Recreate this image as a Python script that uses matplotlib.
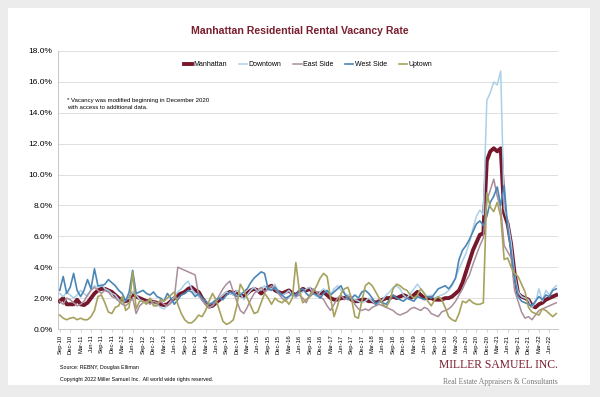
import numpy as np
import pandas as pd
import matplotlib.pyplot as plt
from matplotlib.patches import Rectangle

# monthly vacancy rate (%), Sep-2010 .. Aug-2022
months = pd.date_range("2010-09-01", periods=144, freq="MS")

manhattan = [
    1.8, 2.0, 1.6, 1.6,
    1.6, 1.9, 1.6, 1.55, 1.7, 2.0, 2.3, 2.5, 2.6, 2.6, 2.5, 2.4,
    2.2, 2.0, 1.8, 1.8, 1.9, 2.3, 2.1, 2.0, 1.9, 1.8, 1.8, 1.75,
    1.7, 1.6, 1.55, 1.6, 1.8, 2.0, 2.2, 2.3, 2.4, 2.6, 2.7, 2.5,
    2.4, 2.0, 1.7, 1.45, 1.5, 1.7, 1.9, 2.1, 2.3, 2.4, 2.3, 2.4,
    2.2, 2.1, 2.3, 2.5, 2.6, 2.5, 2.3, 2.5, 2.7, 2.8, 2.5, 2.4,
    2.3, 2.4, 2.5, 2.3, 2.2, 2.4, 2.6, 2.5, 2.6, 2.4, 2.3, 2.3,
    2.4, 2.2, 2.0, 1.9, 1.9, 2.0, 2.0, 2.1, 1.9, 1.8, 1.8, 1.9,
    1.9, 1.8, 1.8, 1.7, 1.8, 1.9, 2.0, 2.0, 2.1, 2.0, 2.1, 2.2,
    2.1, 2.0, 2.2, 2.4, 2.2, 2.0, 2.0, 2.0, 1.9, 1.9, 1.9, 2.0,
    2.0, 2.1, 2.3, 2.5, 3.0, 3.7, 4.4, 5.1, 5.6, 6.1, 6.2, 10.9,
    11.5, 11.7, 11.5, 11.7, 7.5, 6.8, 5.5, 3.6, 2.3, 2.1, 2.0, 1.9,
    1.5, 1.4, 1.6, 1.7, 1.9, 2.0, 2.1, 2.2,
]
downtown = [
    2.3, 2.1, 2.4, 2.2,
    2.0, 2.2, 2.5, 2.3, 2.1, 2.6, 2.8, 2.7, 2.9, 2.6, 2.5, 2.3,
    2.2, 1.9, 1.7, 1.9, 2.0, 2.4, 2.2, 1.9, 1.8, 1.7, 1.9, 1.6,
    1.6, 1.4, 1.3, 1.5, 1.8, 2.1, 2.4, 2.6, 2.9, 3.1, 2.6, 2.3,
    2.1, 1.9, 1.6, 1.4, 1.5, 1.8, 2.0, 2.2, 2.4, 2.3, 2.2, 2.5,
    2.3, 1.9, 2.2, 2.5, 2.7, 2.4, 2.6, 2.8, 2.5, 2.6, 2.9, 2.4,
    2.2, 2.3, 2.5, 2.2, 2.0, 2.3, 2.4, 2.6, 2.7, 2.3, 2.1, 2.4,
    2.6, 2.4, 2.2, 2.6, 2.8, 2.5, 2.3, 2.2, 2.1, 1.9, 1.8, 1.7,
    1.8, 2.0, 1.8, 1.6, 1.7, 1.9, 2.2, 2.4, 2.7, 2.8, 2.6, 2.2,
    2.0, 2.3, 2.6, 2.9, 2.6, 2.3, 2.1, 2.2, 2.0, 2.1, 2.2, 2.3,
    2.5, 2.8, 3.3, 3.9, 4.4, 4.9, 5.6, 6.5, 7.3, 7.7, 7.4, 14.8,
    15.3, 16.0, 15.8, 16.7, 7.8, 7.0, 5.6, 3.5, 2.4, 2.1, 2.0, 1.9,
    1.4, 1.7, 2.6, 1.8, 2.5, 2.2, 2.6, 2.8,
]
east_side = [
    1.8, 1.6, 2.0, 1.9,
    1.7, 1.5, 1.6, 1.8, 2.2, 2.5, 2.7, 2.5, 2.3, 2.5, 2.4, 2.1,
    2.0, 1.8, 1.6, 1.5, 1.7, 2.0, 1.0, 1.5, 1.7, 1.8, 1.6, 1.8,
    1.7, 1.8, 1.6, 1.5, 1.7, 2.0, 4.0, 3.9, 3.8, 3.7, 3.6, 3.5,
    2.2, 1.9, 1.6, 1.4, 1.5, 1.8, 2.2, 2.6, 2.9, 3.1, 2.4, 1.8,
    1.2, 1.0, 1.4, 1.9, 2.3, 2.5, 2.7, 2.4, 2.6, 2.8, 2.6, 2.3,
    2.0, 1.8, 2.1, 2.3, 2.1, 2.2, 2.0, 1.7, 2.2, 2.6, 2.4, 2.1,
    1.9, 1.5, 1.2, 1.6, 2.0, 2.2, 1.9, 2.1, 2.0, 1.6, 1.3, 1.2,
    1.3, 1.2, 1.4, 1.5, 1.6, 1.5, 1.4, 1.3, 1.2, 1.0, 0.9, 1.0,
    1.1, 1.3, 1.4, 1.3, 1.2, 1.4, 1.3, 1.0, 0.9, 0.8, 1.1, 1.2,
    1.3, 1.5, 1.8, 2.2, 2.6, 3.1, 3.5, 4.2, 4.8, 5.4, 5.9, 8.3,
    9.0, 9.7, 8.6, 7.8, 5.4, 5.0, 4.6, 2.5, 1.8, 1.1, 0.7, 0.8,
    0.6, 0.9, 1.2, 1.3, 1.4, 1.5, 1.6, 1.7,
]
west_side = [
    2.5, 3.4, 2.3, 2.7,
    3.6, 2.5, 2.1, 2.5, 3.2, 2.6, 3.9, 2.8, 2.8, 2.9, 3.2, 3.0,
    2.8, 2.5, 2.3, 1.8, 2.4, 3.8, 2.3, 2.4, 2.5, 2.3, 2.2, 2.4,
    2.1, 2.0, 1.8, 2.3, 2.0, 1.6, 1.9, 2.2, 2.3, 2.5, 2.4, 2.1,
    2.3, 2.0, 1.8, 1.6, 1.7, 1.9, 2.0, 1.9, 2.2, 2.4, 2.3, 2.1,
    2.2, 2.4, 2.6, 3.0, 3.3, 3.5, 3.7, 3.6, 2.6, 2.5, 2.7, 2.4,
    2.2, 2.0, 2.1, 2.3, 2.2, 2.5, 2.6, 2.3, 2.1, 2.3, 2.2, 2.0,
    2.3, 2.5, 2.2, 2.4, 2.6, 2.8, 2.3, 1.9, 2.0, 2.2, 2.0, 2.4,
    2.5, 2.3, 2.0, 1.6, 1.8, 1.7, 1.6, 1.9, 2.2, 2.0, 1.9, 1.8,
    2.0, 1.9, 1.8, 2.1, 2.0, 1.9, 2.1, 2.0, 2.3, 2.6, 2.7, 2.8,
    2.6, 2.9, 3.3, 4.5, 5.1, 5.4, 5.8, 6.3, 6.8, 7.0, 6.7, 7.3,
    8.2, 8.6, 9.2, 8.0, 9.3, 6.6, 5.0, 3.3, 2.1, 1.8, 1.7, 1.6,
    1.5, 1.8, 2.1, 1.9, 2.2, 2.1, 2.5, 2.6,
]
uptown = [
    0.9, 0.7, 0.6, 0.7,
    0.75, 0.6, 0.7, 0.6, 0.6, 0.8, 1.2, 2.1, 2.2, 1.7, 1.1, 1.0,
    1.4, 1.5, 2.1, 1.2, 1.4, 3.7, 1.3, 1.8, 1.8, 1.6, 2.0, 1.5,
    1.5, 1.9, 1.8, 2.0, 2.2, 2.4, 1.6, 1.0, 0.6, 0.4, 0.4, 0.6,
    0.9, 0.8, 1.2, 1.8, 2.3, 1.9, 1.2, 0.5, 0.3, 0.4, 0.6, 1.5,
    2.9, 2.5, 2.0, 1.5, 1.0, 1.1, 1.7, 2.3, 2.0, 1.6, 2.0, 1.8,
    1.7, 1.9, 1.6, 2.0, 4.3, 2.5, 1.7, 1.9, 2.1, 2.4, 2.8, 3.3,
    3.6, 3.4, 2.0, 0.8, 1.5, 2.3, 2.6, 2.7, 2.0, 0.8, 0.7, 1.8,
    2.8, 3.0, 2.8, 2.4, 2.0, 1.6, 1.4, 1.8, 2.6, 2.9, 2.8, 2.6,
    2.5, 2.2, 2.0, 2.2, 2.6, 2.3, 1.8, 1.5, 1.9, 2.1, 1.9, 1.4,
    0.8, 0.6, 0.5, 1.0, 1.8, 1.7, 1.9, 1.7, 1.6, 1.6, 1.7, 8.8,
    7.9, 7.6, 8.2, 7.3, 4.5, 4.6, 4.0, 3.6, 3.4, 2.9, 2.4, 1.4,
    1.1, 1.0, 0.9, 1.3, 1.2, 1.0, 0.8, 1.0,
]

tick_labels = [d.strftime("%b-%y") for d in months]

fig = plt.figure(figsize=(6, 3.97), dpi=100, facecolor="#ececec")
fig.patches.append(Rectangle((8 / 600, 12 / 397), 582 / 600, 377 / 397,
                             transform=fig.transFigure, facecolor="white",
                             edgecolor="none", zorder=-10))

ax = fig.add_axes([58 / 600, 1 - 329 / 397, 500 / 600, 278 / 397])
ax.set_facecolor("none")

x = np.arange(len(months))
ax.plot(x, manhattan, color="#76182b", lw=2.8, label="Manhattan", zorder=3)
ax.plot(x, downtown, color="#a9d0e8", lw=1.1, label="Downtown", zorder=4)
ax.plot(x, east_side, color="#a98d9c", lw=1.1, label="East Side", zorder=4)
ax.plot(x, west_side, color="#4c86b6", lw=1.2, label="West Side", zorder=5)
ax.plot(x, uptown, color="#a6a25e", lw=1.2, label="Uptown", zorder=6)

ax.set_xlim(-0.5, len(months) - 0.5)
ax.set_ylim(0, 18)
ax.set_yticks(np.arange(0, 18.1, 2))
ax.set_yticklabels([f"{v:.1f}%" for v in np.arange(0, 18.1, 2)], fontsize=6,
                   family="Liberation Sans")
ax.set_xticks(x[::3])
ax.set_xticklabels(tick_labels[::3], rotation=90, fontsize=4.2,
                   family="Liberation Sans")
ax.tick_params(axis="y", length=0, pad=4)
ax.tick_params(axis="x", length=2, width=0.5, color="#bfbfbf", pad=2)
ax.grid(axis="y", color="#d9d9d9", lw=0.6)
ax.set_axisbelow(True)
for s in ["top", "right"]:
    ax.spines[s].set_visible(False)
for s in ["left", "bottom"]:
    ax.spines[s].set_color("#bfbfbf")
    ax.spines[s].set_linewidth(0.6)

ax.legend(loc="upper center", bbox_to_anchor=(0.5, 0.985), ncol=5, frameon=False,
          prop={"family": "Liberation Sans", "size": 5}, handlelength=1.2,
          handletextpad=0.2, columnspacing=1.7)

ax.text(0.018, 0.83, "* Vacancy was modified beginning in December 2020\nwith access to additional data.",
        transform=ax.transAxes, fontsize=4.3, family="Liberation Sans",
        va="top", linespacing=1.5)

fig.text(0.5, 1 - 31 / 397, "Manhattan Residential Rental Vacancy Rate",
         ha="center", va="center", fontsize=7.6, fontweight="bold",
         color="#7a1f2f", family="Liberation Sans")

fig.text(60 / 600, 1 - 368 / 397, "Source: REBNY, Douglas Elliman",
         fontsize=3.8, family="Liberation Sans", va="center")
fig.text(60 / 600, 1 - 380 / 397,
         "Copyright 2022 Miller Samuel Inc.  All world wide rights reserved.",
         fontsize=3.8, family="Liberation Sans", va="center")

fig.text(558 / 600, 1 - 365 / 397, "MILLER SAMUEL INC.", ha="right", va="center",
         fontsize=8.4, family="Liberation Serif", color="#7a1f2f")
fig.text(558 / 600, 1 - 382 / 397, "Real Estate Appraisers & Consultants",
         ha="right", va="center", fontsize=5.5, family="Liberation Serif",
         color="#777777")

fig.savefig("out.png", dpi=100, facecolor=fig.get_facecolor())
